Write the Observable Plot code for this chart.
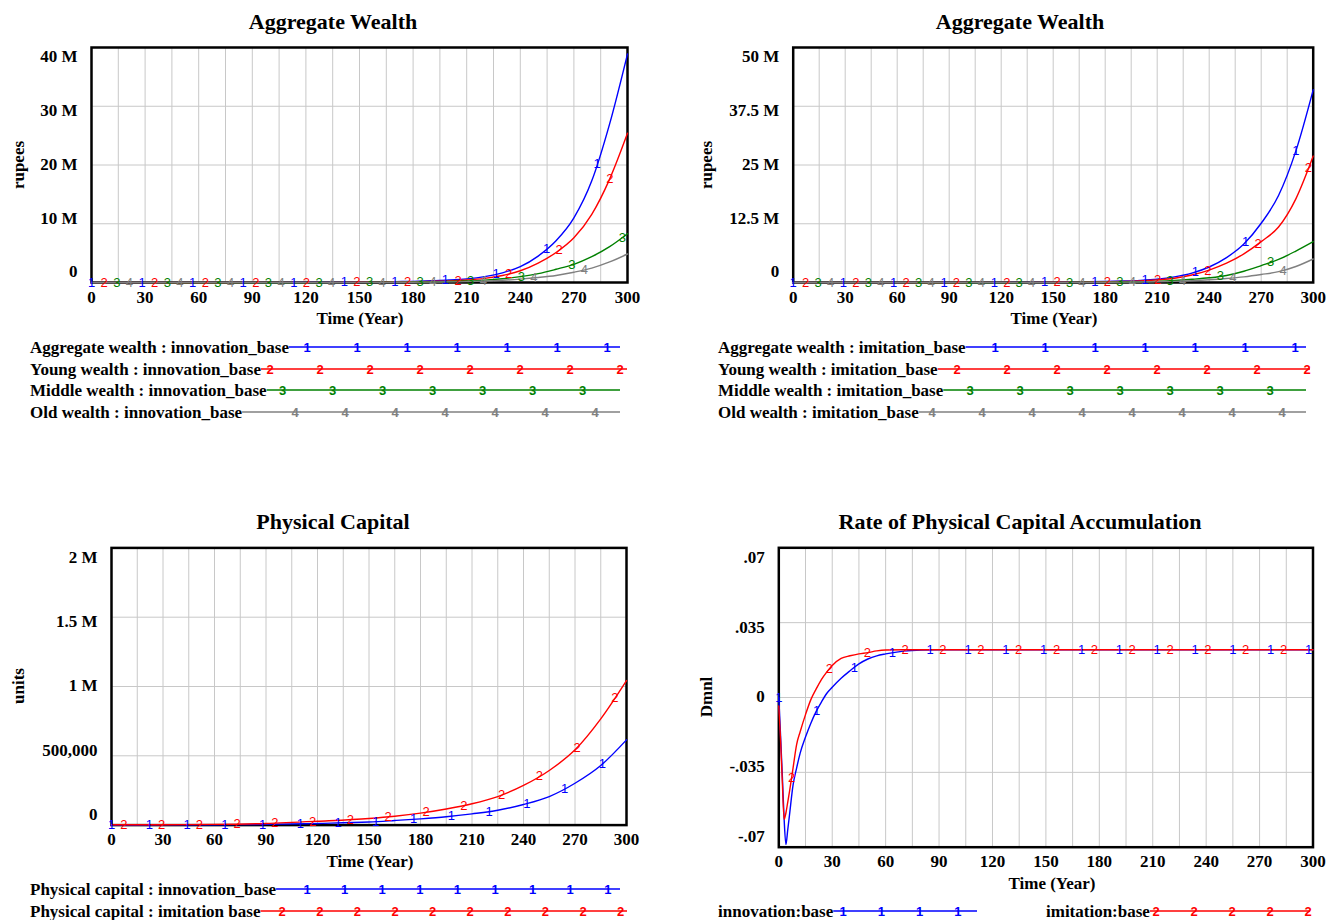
<!DOCTYPE html>
<html><head><meta charset="utf-8">
<script src="https://cdn.jsdelivr.net/npm/d3@7"></script>
<script src="https://cdn.jsdelivr.net/npm/@observablehq/plot@0.6"></script>
<style>
body{margin:0;background:#fff;}
#root{position:relative;width:1328px;height:920px;overflow:hidden;background:#fff;font-family:"Liberation Serif","Times New Roman",serif;font-weight:bold;color:#000;}
.t{position:absolute;white-space:nowrap;line-height:1;transform:translate(-50%,-50%);}
.title{font-size:22px;}
.lab{font-size:17px;}
.ylab{font-size:17px;transform:translate(-50%,-50%) rotate(-90deg);}
#legend{position:absolute;left:0;top:0;}
</style></head>
<body><div id="root"></div>
<script>
// ---------- DATA ----------
const years = [0,30,60,90,120,150,160,170,180,190,200,210,220,230,240,250,260,270,280,290,300];
// innovation_base (millions of rupees)
const aggWealthInnovation    = [0.01,0.012,0.015,0.02,0.03,0.06,0.09,0.14,0.2,0.3,0.42,0.62,1.0,1.65,2.7,4.5,7.1,11.0,17.3,27.0,38.9];
const youngWealthInnovation  = [0.005,0.007,0.01,0.014,0.02,0.04,0.06,0.09,0.13,0.2,0.28,0.43,0.7,1.2,2.0,3.3,5.1,7.6,11.6,17.6,25.4];
const middleWealthInnovation = [0.003,0.004,0.006,0.008,0.012,0.025,0.035,0.05,0.08,0.11,0.16,0.25,0.4,0.65,1.0,1.5,2.25,3.1,4.4,6.1,8.3];
const oldWealthInnovation    = [0.002,0.003,0.004,0.005,0.008,0.015,0.02,0.03,0.045,0.07,0.1,0.15,0.24,0.38,0.58,0.85,1.2,1.75,2.45,3.5,4.85];
// imitation_base (millions of rupees)
const aggWealthImitation     = [0.01,0.012,0.015,0.02,0.03,0.065,0.1,0.15,0.23,0.32,0.45,0.7,1.2,2.0,3.3,5.3,8.2,12.6,18.5,28.0,41.0];
const youngWealthImitation   = [0.005,0.007,0.01,0.014,0.02,0.045,0.07,0.1,0.15,0.22,0.32,0.55,0.9,1.6,2.65,4.1,6.1,8.7,11.8,17.8,26.9];
const middleWealthImitation  = [0.003,0.004,0.006,0.008,0.012,0.025,0.035,0.05,0.08,0.11,0.16,0.25,0.42,0.68,1.0,1.5,2.4,3.6,4.9,6.7,8.7];
const oldWealthImitation     = [0.002,0.003,0.004,0.005,0.008,0.015,0.02,0.03,0.045,0.07,0.1,0.15,0.24,0.38,0.58,0.85,1.2,1.7,2.3,3.4,5.0];

const capYears = [0,30,60,90,120,150,165,180,195,210,225,240,255,270,285,300];
const capitalInnovation = [1000,1500,2500,5000,12000,22000,33000,45000,60000,81000,107000,149000,206000,302000,430000,615000];
const capitalImitation  = [2000,3000,5000,12000,28000,48000,64000,86000,116000,154000,206000,286000,394000,543000,767000,1043000];

const rateYears = [0,1,2,3,4,5,6,8,10,12,15,18,21,24,27,30,35,40,45,50,55,60,70,80,90,300];
const rateInnovation = [0,-0.018,-0.037,-0.057,-0.0687,-0.062,-0.055,-0.041,-0.033,-0.026,-0.0185,-0.012,-0.0065,-0.002,0.002,0.0048,0.009,0.0125,0.0157,0.018,0.0195,0.0204,0.0217,0.0222,0.0223,0.0223];
const rateImitation  = [-0.004,-0.02,-0.04,-0.057,-0.054,-0.049,-0.044,-0.033,-0.022,-0.016,-0.008,-0.001,0.004,0.0085,0.012,0.015,0.0183,0.0195,0.0204,0.021,0.0218,0.0222,0.0223,0.0223,0.0223,0.0223];

const xTickValues = [0,30,60,90,120,150,180,210,240,270,300];
const xGridValues = [0,15,30,45,60,75,90,105,120,135,150,165,180,195,210,225,240,255,270,285,300];

const wealthTicksInnovation  = [0,10,20,30,40];
const wealthLabelsInnovation = ["0","10 M","20 M","30 M","40 M"];
const wealthTicksImitation   = [0,12.5,25,37.5,50];
const wealthLabelsImitation  = ["0","12.5 M","25 M","37.5 M","50 M"];
const capitalTicks  = [0,500000,1000000,1500000,2000000];
const capitalLabels = ["0","500,000","1 M","1.5 M","2 M"];
const rateTicks  = [-0.07,-0.035,0,0.035,0.07];
const rateLabels = ["-.07","-.035","0",".035",".07"];

const legendWealthInnovation = ["Aggregate wealth : innovation_base","Young wealth : innovation_base","Middle wealth : innovation_base","Old wealth : innovation_base"];
const legendWealthImitation  = ["Aggregate wealth : imitation_base","Young wealth : imitation_base","Middle wealth : imitation_base","Old wealth : imitation_base"];
const legendCapital = ["Physical capital : innovation_base","Physical capital : imitation  base"];
const legendRate = ["innovation:base","imitation:base"];

const BLUE="#0000ff", RED="#ff0000", GREEN="#008000", GRAY="#808080";

// ---------- CHART ----------
const root = document.getElementById("root");
function place(el, left, top){ el.style.position="absolute"; el.style.left=left+"px"; el.style.top=top+"px"; root.appendChild(el); }

function makeChart(cfg){
  const marks = [];
  marks.push(Plot.ruleX(xGridValues,{stroke:"#c8c8c8",strokeWidth:1}));
  marks.push(Plot.ruleY(cfg.yTicks,{stroke:"#c8c8c8",strokeWidth:1}));
  marks.push(Plot.frame({stroke:"#000",strokeWidth:2.5}));
  for (const s of cfg.series){
    const rows = cfg.times.map((t,i)=>({t, v:s.values[i]}));
    marks.push(Plot.line(rows,{x:"t",y:"v",stroke:s.color,strokeWidth:1.4,curve:"monotone-x"}));
  }
  for (const s of cfg.series){
    const f = d3.scaleLinear().domain(cfg.times).range(s.values);
    const rows = d3.range(s.start, 300.001, cfg.step).map(t=>({t, v:f(t)}));
    marks.push(Plot.text(rows,{x:"t",y:"v",text:()=>s.glyph,fill:s.color,fontSize:13,fontFamily:"Liberation Sans, Arial, sans-serif",fontWeight:"normal"}));
  }
  marks.push(Plot.axisX({ticks:xTickValues,tickSize:0,tickPadding:8,label:null,tickFormat:d=>String(d)}));
  cfg.yTicks.forEach((v,i)=>marks.push(Plot.axisY({ticks:[v],tickSize:0,tickPadding:14,label:null,tickFormat:()=>cfg.yLabels[i],dy:-10.5+5*i})));
  return Plot.plot({
    width:cfg.width, height:cfg.height,
    marginLeft:cfg.ml, marginRight:cfg.mr, marginTop:cfg.mt, marginBottom:cfg.mb,
    x:{domain:[0,300]}, y:{domain:cfg.yDomain},
    style:{fontFamily:"Liberation Serif, Times New Roman, serif",fontSize:"17px",fontWeight:"bold",background:"transparent",color:"#000"},
    marks
  });
}

place(makeChart({
  width:664,height:340,ml:91,mr:37,mt:47,mb:58,yDomain:[0,40],
  yTicks:wealthTicksInnovation,yLabels:wealthLabelsInnovation,times:years,step:28.3,
  series:[
    {values:aggWealthInnovation,color:BLUE,glyph:"1",start:0},
    {values:youngWealthInnovation,color:RED,glyph:"2",start:7.07},
    {values:middleWealthInnovation,color:GREEN,glyph:"3",start:14.15},
    {values:oldWealthInnovation,color:GRAY,glyph:"4",start:21.2}
  ]}),0,0);

place(makeChart({
  width:664,height:340,ml:128.7,mr:15.3,mt:47,mb:58,yDomain:[0,50],
  yTicks:wealthTicksImitation,yLabels:wealthLabelsImitation,times:years,step:29,
  series:[
    {values:aggWealthImitation,color:BLUE,glyph:"1",start:0},
    {values:youngWealthImitation,color:RED,glyph:"2",start:7.2},
    {values:middleWealthImitation,color:GREEN,glyph:"3",start:14.4},
    {values:oldWealthImitation,color:GRAY,glyph:"4",start:21.6}
  ]}),664,0);

place(makeChart({
  width:664,height:360,ml:111,mr:38,mt:47.4,mb:35.4,yDomain:[0,2000000],
  yTicks:capitalTicks,yLabels:capitalLabels,times:capYears,step:22,
  series:[
    {values:capitalInnovation,color:BLUE,glyph:"1",start:0},
    {values:capitalImitation,color:RED,glyph:"2",start:7.2}
  ]}),0,500);

place(makeChart({
  width:664,height:380,ml:114.3,mr:15.5,mt:47.3,mb:33.3,yDomain:[-0.07,0.07],
  yTicks:rateTicks,yLabels:rateLabels,times:rateYears,step:21.25,
  series:[
    {values:rateInnovation,color:BLUE,glyph:"1",start:0},
    {values:rateImitation,color:RED,glyph:"2",start:7.2}
  ]}),664,500);

// ---------- TEXT ----------
function txt(cls, s, x, y){ const d=document.createElement("div"); d.className="t "+cls; d.textContent=s; d.style.left=x+"px"; d.style.top=y+"px"; root.appendChild(d); }
txt("title","Aggregate Wealth",333,22);
txt("title","Aggregate Wealth",1020,22);
txt("title","Physical Capital",333,522);
txt("title","Rate of Physical Capital Accumulation",1020,522);
txt("lab","Time (Year)",360,318);
txt("lab","Time (Year)",1054,318);
txt("lab","Time (Year)",370,861);
txt("lab","Time (Year)",1052,883);
txt("ylab","rupees",18,165);
txt("ylab","rupees",706,165);
txt("ylab","units",18,686);
txt("ylab","Dmnl",706,697);

// ---------- LEGENDS ----------
const svg = d3.select(root).append("svg").attr("id","legend").attr("width",1328).attr("height",920);
function legendRow(label, color, glyph, x0, y, lineEnd, firstMarker, step){
  const t = svg.append("text").attr("x",x0).attr("y",y+6)
    .attr("font-family","Liberation Serif, Times New Roman, serif").attr("font-size",17).attr("font-weight","bold")
    .attr("fill","#000").text(label);
  const end = x0 + t.node().getComputedTextLength();
  svg.append("line").attr("x1",end).attr("x2",lineEnd).attr("y1",y).attr("y2",y).attr("stroke",color).attr("stroke-width",1.4);
  for (let x=firstMarker; x<=lineEnd+2; x+=step){
    svg.append("text").attr("x",x).attr("y",y).attr("text-anchor","middle").attr("dominant-baseline","central")
      .attr("font-family","Liberation Sans, Arial, sans-serif").attr("font-size",13).attr("fill",color).text(glyph);
  }
}
const cols=[BLUE,RED,GREEN,GRAY];
const rowsY=[347,369,390,412];
const firstTL=[307,270,282.5,295];
const firstTR=[995,957,970,932];
legendWealthInnovation.forEach((l,i)=>legendRow(l,cols[i],String(i+1),30,rowsY[i],i===1?627:620,firstTL[i],50));
legendWealthImitation.forEach((l,i)=>legendRow(l,cols[i],String(i+1),718,rowsY[i],i===1?1310:1306,firstTR[i],50));
legendRow(legendCapital[0],BLUE,"1",30,889,620,307,37.6);
legendRow(legendCapital[1],RED,"2",30,911,627,282.2,37.6);
legendRow(legendRate[0],BLUE,"1",718,911,977,843,38.3);
legendRow(legendRate[1],RED,"2",1046,911,1310,1156,38);
</script>
</body></html>
